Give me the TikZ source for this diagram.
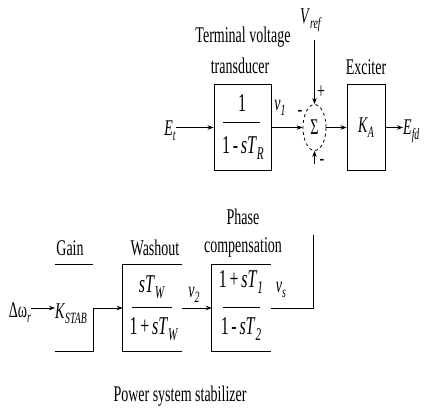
\documentclass[tikz,border=0pt]{standalone}
\usepackage{fontspec}
\setmainfont{Liberation Serif}
\usetikzlibrary{arrows.meta,shapes.geometric,calc}
\newcommand{\vs}[1]{\scalebox{1}[1.6]{#1}}
\newcommand{\dn}[1]{\raisebox{-0.5ex}{\scalebox{0.7}{\textit{#1}}}}
\tikzset{
  lbl/.style={inner sep=0pt, font=\fontsize{14}{16}\selectfont},
  frm/.style={inner sep=0pt, font=\fontsize{16}{18}\selectfont},
  blk/.style={draw, line width=0.9pt, inner sep=0pt},
  ghost/.style={inner sep=0pt},
  wire/.style={line width=0.9pt},
  arr/.style={wire, -{Stealth[length=6pt,width=4.5pt]}},
}
\begin{document}
\begin{tikzpicture}[x=1pt,y=-1pt]
\useasboundingbox (0,0) rectangle (427,410);

% ---- top row ----
\node[lbl] (tvt1) at (243,37) {\vs{Terminal voltage}};
\node[lbl] (tvt2) at (240,66) {\vs{transducer}};
\node[blk, minimum width=57pt, minimum height=86pt] (tr) at (242.5,127.5) {};
\node[frm] (trn) at (242,103) {\vs{1}};
\node[frm] (trd) at (243,148) {\vs{1\,-\,\textit{sT}\dn{R}}};
\draw[wire] (223,122) -- (260,122);

\node[lbl] (Et) at (170,131) {\vs{\textit{E}\dn{t}}};
\draw[arr] (tr.west -| Et.east) -- (tr.west);

\node[lbl] (v1) at (280,108) {\vs{\textit{v}\dn{1}}};

\node[ellipse, draw, dashed, line width=0.8pt, minimum width=23pt, minimum height=46pt, inner sep=0pt, lbl] (sum) at (314.5,127.5) {\vs{Σ}};
\draw[arr] (tr.east) -- (sum.west);

\node[lbl] (vref) at (311,20) {\vs{\textit{V}\dn{ref}}};
\coordinate (vreftop) at (314.5,40);
\draw[arr] (vreftop) -- (sum.north);
\coordinate (botstub) at (314.5,164);
\draw[arr] (botstub) -- (sum.south);
\node[lbl] (plus) at (321,92) {\vs{+}};
\node[lbl] (mleft) at (300,113) {\vs{-}};
\node[lbl] (mbot) at (322,162) {\vs{-}};

\node[lbl] (exl) at (366,67) {\vs{Exciter}};
\node[blk, lbl, minimum width=38pt, minimum height=86pt] (ex) at (366,127.5) {\vs{\textit{K}\dn{A}}};
\draw[arr] (sum.east) -- (ex.west);
\node[lbl, anchor=west] (Efd) at (403,131) {\vs{\textit{E}\dn{fd}}};
\draw[arr] (ex.east) -- (ex.east -| Efd.west);

% ---- bottom row ----
\node[lbl] (gainl) at (70,248) {\vs{Gain}};
\node[ghost, minimum width=38pt, minimum height=86pt] (gn) at (74,308) {};
\draw[wire] (gn.north west) -- (gn.north east);
\draw[wire] (gn.east) -- (gn.south east) -- (gn.south west);
\node[lbl] (ks) at (71,314) {\vs{\textit{K}\dn{STAB}}};
\node[lbl] (dw) at (20,313) {\vs{Δω\dn{r}}};
\draw[arr] (dw.east |- gn.east) -- (ks.west |- gn.east);

\node[lbl] (wol) at (155,248) {\vs{Washout}};
\node[ghost, minimum width=59pt, minimum height=87pt] (wo) at (152.5,308) {};
\draw[wire] (wo.north east) -- (wo.north west) -- (wo.south west) -- (wo.south east);
\node[frm] (won) at (152,287) {\vs{\textit{sT}\dn{W}}};
\node[frm] (wod) at (154,329) {\vs{1\,+\,\textit{sT}\dn{W}}};
\draw[wire] (132,307) -- (172,307);
\draw[arr] (gn.east) -- (wo.west);

\node[lbl] (v2) at (194,295) {\vs{\textit{v}\dn{2}}};

\node[lbl] (phl1) at (243,217) {\vs{Phase}};
\node[lbl] (phl2) at (243,247) {\vs{compensation}};
\node[ghost, minimum width=59pt, minimum height=86pt] (pc) at (241.5,308) {};
\draw[wire] (pc.north east) -- (pc.north west) -- (pc.south west) -- (pc.south east);
\node[frm] (pcn) at (241,282) {\vs{1\,+\,\textit{sT}\dn{1}}};
\node[frm] (pcd) at (241,329) {\vs{1\,-\,\textit{sT}\dn{2}}};
\draw[wire] (223,307) -- (260,307);
\draw[arr] (wo.east) -- (pc.west);

\node[lbl] (vs) at (281,290) {\vs{\textit{v}\dn{s}}};
\coordinate (vsend) at (313,235);
\draw[wire] (pc.east) -- (pc.east -| vsend) -- (vsend);

\node[lbl] (pss) at (180,396) {\vs{Power system stabilizer}};
\end{tikzpicture}
\end{document}
